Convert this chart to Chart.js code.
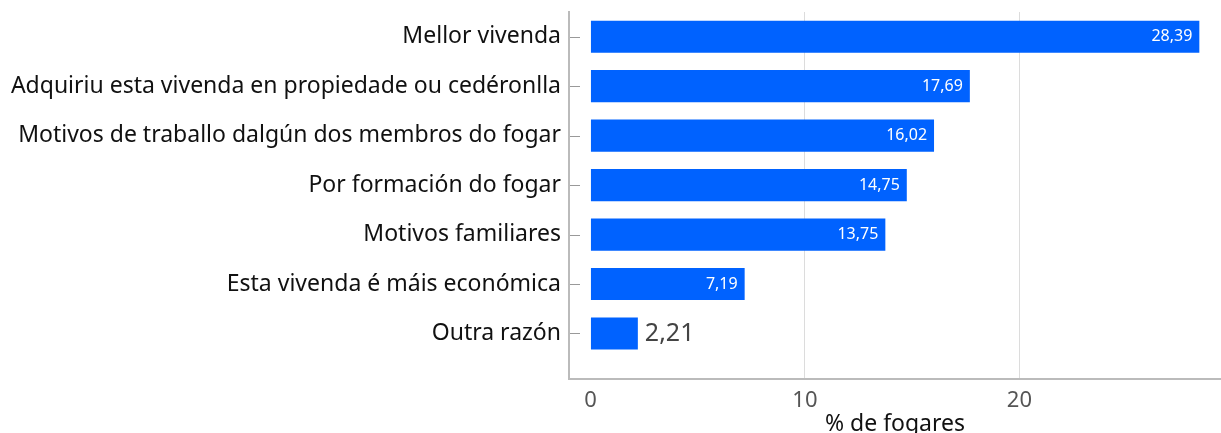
<!DOCTYPE html>
<html>
<head>
<meta charset="utf-8">
<script src="https://cdn.jsdelivr.net/npm/chart.js@4.4.1/dist/chart.umd.min.js"></script>
<style>
  html, body { margin: 0; padding: 0; background: #fff; overflow: hidden; }
  #wrap { width: 1221px; height: 445px; }
</style>
</head>
<body>
<div id="wrap"><canvas id="chart"></canvas></div>
<script>
const categories = [
  'Mellor vivenda',
  'Adquiriu esta vivenda en propiedade ou cedéronlla',
  'Motivos de traballo dalgún dos membros do fogar',
  'Por formación do fogar',
  'Motivos familiares',
  'Esta vivenda é máis económica',
  'Outra razón'
];
const values = [28.39, 17.69, 16.02, 14.75, 13.75, 7.19, 2.21];
const xTicks = [0, 10, 20];
const xTitle = '% de fogares';

const FONT = "'Noto Sans', sans-serif";
const BLUE = '#0062ff';

const fmt = (v) => v.toFixed(2).replace('.', ',');

// tiny inward tick marks on the category axis + value labels on bars
const extras = {
  id: 'extras',
  afterDatasetsDraw(chart) {
    const ctx = chart.ctx;
    const yScale = chart.scales.y;
    const left = chart.chartArea.left;
    ctx.save();
    ctx.strokeStyle = '#999';
    ctx.lineWidth = 1;
    yScale.ticks.forEach((t) => {
      const y = Math.round(yScale.getPixelForValue(t.value)) + 0.5;
      ctx.beginPath();
      ctx.moveTo(left + 1, y);
      ctx.lineTo(left + 11, y);
      ctx.stroke();
    });

    const meta = chart.getDatasetMeta(0);
    meta.data.forEach((bar, i) => {
      const txt = fmt(values[i]);
      const w = bar.x - bar.base;
      if (w > 60) {
        ctx.font = '16px ' + FONT;
        ctx.fillStyle = '#fff';
        ctx.textAlign = 'right';
        ctx.textBaseline = 'middle';
        ctx.fillText(txt, bar.x - 7, bar.y);
      } else {
        ctx.font = '25px ' + FONT;
        ctx.fillStyle = '#444';
        ctx.textAlign = 'left';
        ctx.textBaseline = 'middle';
        ctx.fillText(txt, bar.x + 7, bar.y);
      }
    });
    ctx.restore();
  }
};

new Chart(document.getElementById('chart'), {
  type: 'bar',
  data: {
    datasets: [{
      data: values.map((v, i) => ({ x: v, y: i })),
      backgroundColor: BLUE,
      borderWidth: 0,
      categoryPercentage: 0.65,
      barPercentage: 1
    }]
  },
  options: {
    indexAxis: 'y',
    responsive: true,
    maintainAspectRatio: false,
    animation: false,
    layout: { padding: { top: 12, right: 0, left: 0, bottom: 0 } },
    plugins: {
      legend: { display: false },
      tooltip: { enabled: false }
    },
    scales: {
      x: {
        type: 'linear',
        min: -1,
        max: 29.4,
        afterBuildTicks: (s) => { s.ticks = xTicks.map((v) => ({ value: v })); },
        afterFit: (s) => { s.height = 66; },
        grid: {
          color: (c) => (c.tick && c.tick.value === 0 ? 'rgba(0,0,0,0)' : '#dcdcdc'),
          lineWidth: 1,
          drawTicks: false
        },
        border: { color: '#bbb', width: 2 },
        ticks: {
          color: '#555',
          padding: 9,
          font: { family: FONT, size: 22 }
        },
        title: {
          display: true,
          text: xTitle,
          color: '#111',
          padding: { top: 0, bottom: 7 },
          font: { family: FONT, size: 23 }
        }
      },
      y: {
        type: 'linear',
        reverse: true,
        offset: false,
        min: -0.5,
        max: 6.92,
        afterBuildTicks: (s) => { s.ticks = categories.map((c, i) => ({ value: i })); },
        afterFit: (s) => { s.width = 569; s.paddingTop = 0; s.paddingBottom = 0; },
        grid: { display: false, drawTicks: false, offset: false },
        border: { color: '#bbb', width: 2 },
        ticks: {
          color: '#111',
          padding: 8,
          font: { family: FONT, size: 23 },
          callback: (v) => categories[v]
        }
      }
    }
  },
  plugins: [extras]
});
</script>
</body>
</html>
